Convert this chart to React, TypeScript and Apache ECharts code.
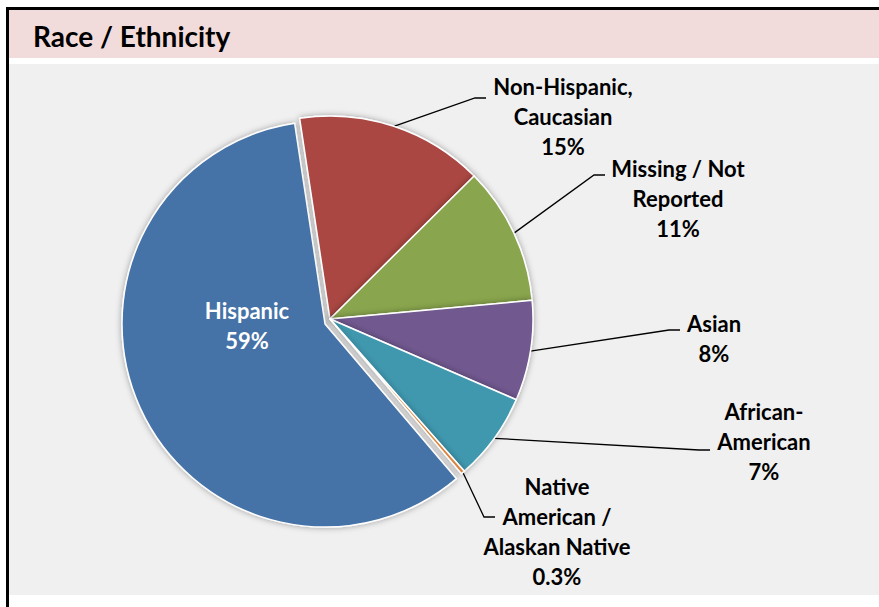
import React, { useEffect, useRef } from 'react';
import * as echarts from 'echarts';

const TITLE = 'Race / Ethnicity';
const CATEGORIES = [
  'Non-Hispanic,\nCaucasian',
  'Missing / Not\nReported',
  'Asian',
  'African-\nAmerican',
  'Native\nAmerican /\nAlaskan Native',
  'Hispanic',
];
const VALUES = [15, 11, 8, 7, 0.3, 59];
const COLORS = ['#AA4643', '#89A54E', '#71588F', '#4198AF', '#DB843D', '#4572A7'];
const EXPLODED = 'Hispanic';

// label placement (styles / layout only)
const LABEL_LAYOUT: { x: number; y: number; end?: [number, number] }[] = [
  { x: 563, y: 116, end: [486, 98] },
  { x: 678, y: 198, end: [605, 175] },
  { x: 714, y: 338, end: [680, 330] },
  { x: 764, y: 441, end: [710, 450] },
  { x: 557, y: 531, end: [495, 517] },
  { x: 247, y: 325 },
];

const FONT = 'Lato, "Open Sans", sans-serif';
const HIDDEN = { color: 'rgba(0,0,0,0)', borderWidth: 0, shadowBlur: 0, shadowColor: 'rgba(0,0,0,0)' };

export default function App() {
  const ref = useRef<HTMLDivElement>(null);
  useEffect(() => {
    document.body.style.margin = '0';
    const chart = echarts.init(ref.current!, null, { renderer: 'svg' });

    const makeData = (showExploded: boolean) =>
      CATEGORIES.map((name, i) => {
        const isExp = name === EXPLODED;
        const visible = isExp === showExploded;
        return {
          name,
          value: VALUES[i],
          itemStyle: visible ? { color: COLORS[i] } : HIDDEN,
          label: visible
            ? isExp
              ? { show: true, position: 'inside', color: '#ffffff' }
              : { show: true, position: 'outside', color: '#000000' }
            : { show: false },
          labelLine: { show: visible && !isExp },
        };
      });

    const common = {
      type: 'pie',
      radius: 203,
      startAngle: 98.6,
      clockwise: true,
      avoidLabelOverlap: false,
      silent: true,
      emphasis: { disabled: true },
      itemStyle: {
        borderColor: '#ffffff',
        borderWidth: 1.5,
        shadowBlur: 6,
        shadowColor: 'rgba(0,0,0,0.35)',
      },
      label: {
        formatter: '{b}\n{c}%',
        fontFamily: FONT,
        fontWeight: 'bold',
        fontSize: 22,
        lineHeight: 30,
        align: 'center',
      },
      labelLine: {
        show: true,
        lineStyle: { color: '#000000', width: 1.3 },
      },
      labelLayout: (params: any) => {
        const L = LABEL_LAYOUT[params.dataIndex];
        const res: any = { x: L.x, y: L.y, align: 'center', verticalAlign: 'middle', hideOverlap: false };
        if (L.end && params.labelLinePoints && params.labelLinePoints.length) {
          const s = params.labelLinePoints[0];
          res.labelLinePoints = [s, [L.end[0] - 11, L.end[1]], L.end];
        }
        return res;
      },
    };

    chart.setOption({
      animation: false,
      backgroundColor: '#ffffff',
      graphic: [
        { type: 'rect', z: 0, shape: { x: 9, y: 64, width: 870, height: 531 }, style: { fill: '#F0F0F0' } },
        { type: 'rect', z: 0, shape: { x: 9, y: 10, width: 870, height: 48 }, style: { fill: '#F2DCDB' } },
        { type: 'rect', z: 0, shape: { x: 6, y: 7, width: 3, height: 600 }, style: { fill: '#000000' } },
        { type: 'rect', z: 0, shape: { x: 6, y: 7, width: 873, height: 3 }, style: { fill: '#000000' } },
        {
          type: 'text',
          z: 1,
          x: 33,
          y: 36,
          style: {
            text: TITLE,
            fill: '#000000',
            font: `bold 28px ${FONT}`,
            verticalAlign: 'middle',
            align: 'left',
          },
        },
      ],
      series: [
        { ...common, name: 'exploded', center: [325, 324], data: makeData(true) },
        { ...common, name: 'main', center: [330, 319], data: makeData(false) },
      ],
    });
    return () => chart.dispose();
  }, []);
  return <div ref={ref} style={{ width: 879, height: 607 }} />;
}
